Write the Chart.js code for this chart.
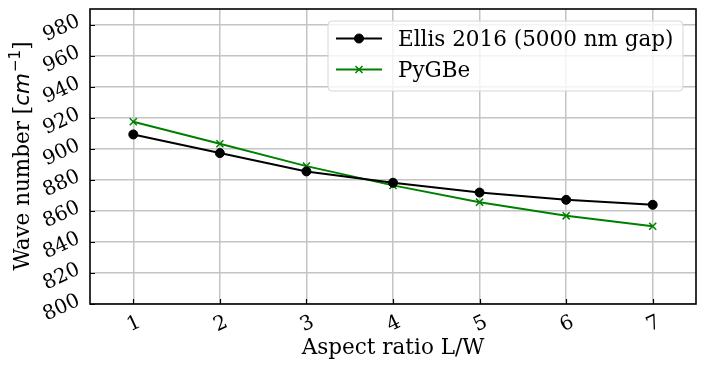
<!DOCTYPE html>
<html>
<head>
<meta charset="utf-8">
<script src="https://cdn.jsdelivr.net/npm/chart.js@4"></script>
<style>
  html, body { margin: 0; padding: 0; background: #fff; }
  #wrap { width: 705px; height: 370px; }
</style>
</head>
<body>
<div id="wrap"><canvas id="chart"></canvas></div>
<script>
const aspectRatios = ['1', '2', '3', '4', '5', '6', '7'];
const ellisValues = [909.2, 897.2, 885.4, 878.1, 871.8, 867.1, 863.9];
const pygbeValues = [917.4, 903.2, 888.8, 876.4, 865.6, 856.8, 850.1];
const yTicks = [800, 820, 840, 860, 880, 900, 920, 940, 960, 980];

const FONT = '"DejaVu Serif", serif';
const TICK_SIZE = 20;
const LABEL_SIZE = 21.5;
const ROT = -25 * Math.PI / 180;

// rotated label, ink centred on (cx, cy)
function rotLabel(ctx, text, cx, cy, capH) {
  ctx.save();
  ctx.translate(cx, cy);
  ctx.rotate(ROT);
  ctx.textAlign = 'center';
  ctx.textBaseline = 'alphabetic';
  ctx.fillText(text, 0, capH / 2);
  ctx.restore();
}

function inkBox(ctx, text, capH) {
  const w = ctx.measureText(text).width;
  const c = Math.cos(ROT), s = Math.abs(Math.sin(ROT));
  return { w: w * c + capH * s, h: w * s + capH * c };
}

const axesDecor = {
  id: 'axesDecor',
  afterDraw(chart) {
    const { ctx, chartArea: a, scales: { x, y } } = chart;
    ctx.save();

    // black frame
    ctx.strokeStyle = '#000';
    ctx.lineWidth = 1.6;
    ctx.strokeRect(a.left, a.top, a.right - a.left, a.bottom - a.top);

    // inward ticks
    ctx.beginPath();
    yTicks.forEach(v => {
      const py = Math.round(y.getPixelForValue(v)) + 0.5;
      ctx.moveTo(a.left, py); ctx.lineTo(a.left + 5, py);
    });
    aspectRatios.forEach((lab, i) => {
      const px = Math.round(x.getPixelForValue(i)) + 0.5;
      ctx.moveTo(px, a.bottom); ctx.lineTo(px, a.bottom - 5);
    });
    ctx.lineWidth = 1.2;
    ctx.stroke();

    // tick labels, rotated 25deg
    ctx.fillStyle = '#000';
    ctx.font = TICK_SIZE + 'px ' + FONT;
    const capH = TICK_SIZE * 0.73;
    yTicks.forEach(v => {
      const t = String(v);
      const b = inkBox(ctx, t, capH);
      rotLabel(ctx, t, a.left - 9 - b.w / 2, y.getPixelForValue(v) + 2, capH);
    });
    aspectRatios.forEach((lab, i) => {
      const b = inkBox(ctx, lab, capH);
      rotLabel(ctx, lab, x.getPixelForValue(i), a.bottom + 9 + b.h / 2, capH);
    });

    // y axis title, with math-style cm^-1
    const parts = [
      { t: 'Wave number [', f: LABEL_SIZE + 'px ' + FONT, dy: 0 },
      { t: 'cm', f: 'italic ' + LABEL_SIZE + 'px "DejaVu Sans", sans-serif', dy: 0 },
      { t: '\u22121', f: (LABEL_SIZE * 0.7) + 'px "DejaVu Sans", sans-serif', dy: -LABEL_SIZE * 0.42 },
      { t: ']', f: LABEL_SIZE + 'px ' + FONT, dy: 0 }
    ];
    let total = 0;
    parts.forEach(p => { ctx.font = p.f; p.w = ctx.measureText(p.t).width; total += p.w; });
    ctx.save();
    ctx.translate(29, (a.top + a.bottom) / 2);
    ctx.rotate(-Math.PI / 2);
    ctx.textAlign = 'left';
    ctx.textBaseline = 'alphabetic';
    let px = -total / 2;
    parts.forEach(p => {
      ctx.font = p.f;
      ctx.fillText(p.t, px, p.dy);
      px += p.w + (p.t === 'cm' ? 1 : 0);
    });
    ctx.restore();

    // legend
    const lx = 328, ly = 21, lw = 355, lh = 70;
    ctx.beginPath();
    ctx.roundRect(lx, ly, lw, lh, 4);
    ctx.fillStyle = 'rgba(255,255,255,0.8)';
    ctx.fill();
    ctx.strokeStyle = '#d6d6d6';
    ctx.lineWidth = 1;
    ctx.stroke();

    ctx.font = LABEL_SIZE + 'px ' + FONT;
    ctx.textAlign = 'left';
    ctx.textBaseline = 'alphabetic';
    chart.data.datasets.forEach((ds, i) => {
      const ry = 38.5 + i * 31;
      ctx.strokeStyle = ds.borderColor;
      ctx.fillStyle = ds.pointBackgroundColor || ds.borderColor;
      ctx.lineWidth = 2;
      ctx.beginPath();
      ctx.moveTo(lx + 8, ry); ctx.lineTo(lx + 54, ry);
      ctx.stroke();
      ctx.lineWidth = ds.pointBorderWidth;
      Chart.helpers.drawPoint(ctx, {
        pointStyle: ds.pointStyle, radius: ds.pointRadius, rotation: 0,
        borderWidth: ds.pointBorderWidth
      }, lx + 31, ry);
      ctx.fillStyle = '#000';
      ctx.fillText(ds.label, lx + 70, ry + LABEL_SIZE * 0.36);
    });

    ctx.restore();
  }
};

new Chart(document.getElementById('chart'), {
  type: 'line',
  data: {
    labels: aspectRatios,
    datasets: [{
      label: 'Ellis 2016 (5000 nm gap)',
      data: ellisValues,
      borderColor: '#000000',
      backgroundColor: '#000000',
      borderWidth: 2,
      pointStyle: 'circle',
      pointRadius: 4.5,
      pointBorderWidth: 1,
      pointBackgroundColor: '#000000',
      tension: 0
    }, {
      label: 'PyGBe',
      data: pygbeValues,
      borderColor: '#008000',
      backgroundColor: '#008000',
      borderWidth: 2,
      pointStyle: 'crossRot',
      pointRadius: 5,
      pointBorderWidth: 1.5,
      tension: 0
    }]
  },
  options: {
    responsive: true,
    maintainAspectRatio: false,
    animation: false,
    layout: { padding: { top: 9, right: 9, left: 0, bottom: 0 } },
    plugins: { legend: { display: false }, tooltip: { enabled: false } },
    scales: {
      x: {
        type: 'category',
        offset: true,
        grid: { offset: false, color: '#c4c4c4', lineWidth: 1.5, drawTicks: false },
        border: { display: false },
        ticks: { display: false },
        afterFit: s => { s.height = 66; },
        title: {
          display: true, text: 'Aspect ratio L/W', color: '#000',
          font: { family: FONT, size: LABEL_SIZE }, padding: { top: 0, bottom: 9 }
        }
      },
      y: {
        min: 800,
        max: 990,
        afterBuildTicks: s => { s.ticks = yTicks.map(v => ({ value: v })); },
        grid: { color: '#c4c4c4', lineWidth: 1.5, drawTicks: false },
        border: { display: false },
        ticks: { display: false },
        afterFit: s => { s.width = 90; }
      }
    }
  },
  plugins: [axesDecor]
});
</script>
</body>
</html>
